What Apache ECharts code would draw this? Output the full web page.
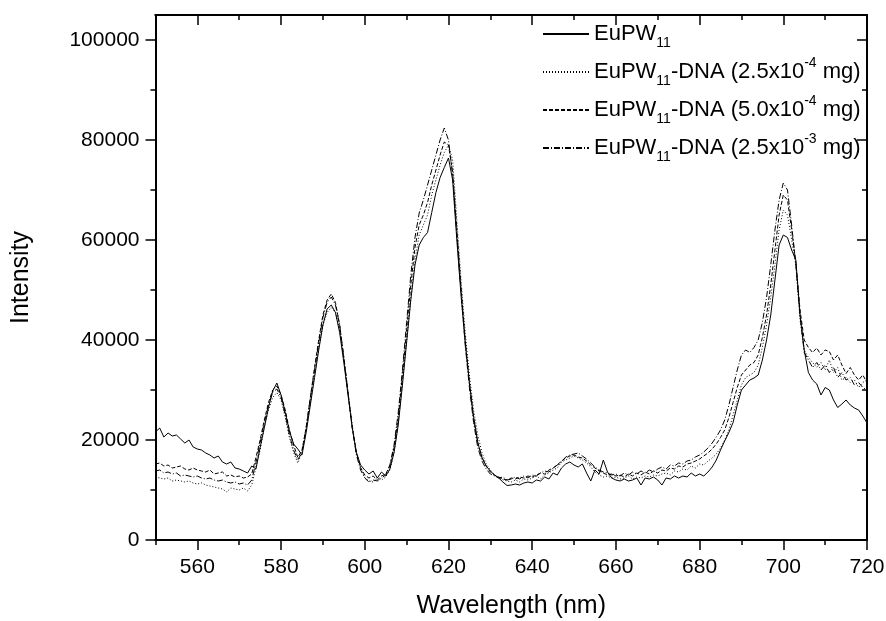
<!DOCTYPE html>
<html>
<head>
<meta charset="utf-8">
<script src="https://cdn.jsdelivr.net/npm/echarts@6/dist/echarts.min.js"></script>
<style>
  html, body { margin: 0; padding: 0; background: #fff; }
  #chart { width: 886px; height: 621px; }
</style>
</head>
<body>
<div id="chart"></div>
<script>
// wavelength grid (nm)
var wavelength = [
  550,551,552,553,554,555,556,557,558,559,560,561,562,563,564,565,566,567,568,569,
  570,571,572,573,574,575,576,577,578,579,580,581,582,583,584,585,586,587,588,589,
  590,591,592,593,594,595,596,597,598,599,600,601,602,603,604,605,606,607,608,609,
  610,611,612,613,614,615,616,617,618,619,620,621,622,623,624,625,626,627,628,629,
  630,631,632,633,634,635,636,637,638,639,640,641,642,643,644,645,646,647,648,649,
  650,651,652,653,654,655,656,657,658,659,660,661,662,663,664,665,666,667,668,669,
  670,671,672,673,674,675,676,677,678,679,680,681,682,683,684,685,686,687,688,689,
  690,691,692,693,694,695,696,697,698,699,700,701,702,703,704,705,706,707,708,709,
  710,711,712,713,714,715,716,717,718,719,720
];

// EuPW11
var pw11 = [
  21600,22400,20600,21400,20800,21000,20200,19400,20000,18600,18200,18000,17400,17000,16400,16800,15600,15200,15600,14400,
  14200,13800,13400,14800,14200,18500,22500,26500,29800,31400,29000,25500,21800,19200,18200,17000,21500,27000,32500,38000,
  43000,46200,47000,45500,41500,35500,29000,22500,17500,15000,14000,13200,13800,12400,13600,12800,14200,17500,23000,31000,
  39500,48000,55000,59000,60500,61500,65500,69500,72500,74500,76400,72000,60000,49000,39500,31500,24500,19500,16500,14800,
  13800,13000,12400,11600,10900,11000,11200,11000,11400,11600,11400,12000,11800,12600,12200,13400,13000,14400,15200,15600,
  15000,14600,15200,13400,11800,14000,13200,16000,13600,12400,12000,11800,12200,11800,12000,12400,11000,12400,12200,12600,
  12000,11000,12400,12200,12800,12400,12800,12600,13400,12800,13200,12800,13600,14600,16000,18000,19800,21500,23500,27000,
  30000,31000,32000,32400,33000,36000,40000,45000,52000,59000,61000,60500,58000,56000,45000,38000,33500,32000,31200,29000,
  30500,30000,28000,26500,27200,28000,27000,26400,26000,24800,23400
];

// EuPW11-DNA (2.5x10-4 mg)
var dna25e4 = [
  12600,12400,12200,12400,11800,12000,11800,11600,11800,11400,11200,11400,11000,10800,10600,10400,10200,9600,10400,10200,
  10000,10400,9800,11000,14500,18000,22500,26000,28500,29500,28000,24500,20500,17500,15400,17500,22000,27500,33000,38500,
  43000,45500,46500,45500,42000,36000,29500,23000,17500,14500,12500,11800,11600,12400,12000,12600,14000,17500,23500,31500,
  40000,48500,56000,61000,63000,65000,69000,72000,75000,77500,79000,76000,64000,52000,41500,33000,26000,21000,17500,15200,
  14000,13000,12600,12000,11800,11600,12000,11600,12200,12000,12400,12800,12200,13000,13400,14000,14400,15600,16000,16400,
  16800,16400,16000,15400,14600,13600,13000,12600,12800,12400,12600,12200,12400,12800,12200,12600,12400,12800,12600,13000,
  12800,13200,13400,13000,13800,13600,14200,14000,14800,14400,15200,15000,15800,16400,17200,18400,20000,22000,25000,28000,
  31000,32500,33000,33500,35000,38500,43000,48500,55000,62000,66000,65000,60000,55000,44000,38000,36500,35500,34500,35500,
  34000,36000,33500,34500,32000,32500,31500,32000,30500,31500,32000
];

// EuPW11-DNA (5.0x10-4 mg)
var dna50e4 = [
  15200,15400,14800,15000,14400,14600,14800,14200,14000,14400,14000,13800,13600,14000,13200,13400,13600,12800,13000,12600,
  12800,12400,12600,13200,16500,20000,24000,27500,30000,30800,29000,26000,22000,19000,16500,18000,22500,28500,34500,40000,
  45000,48000,49200,47500,43000,36500,29500,22500,17500,14500,13000,12400,12800,12000,12800,13200,14800,18500,24500,33000,
  42000,51000,58500,63000,65000,67500,71000,74000,77000,79600,79000,73500,62000,50500,40000,31500,24500,19500,16500,14800,
  13600,13000,12600,12200,12000,12400,12200,12600,12400,12800,12600,13000,13400,13200,14000,14400,15000,15800,16400,16800,
  17000,16600,16400,15800,15000,14400,13800,13400,13000,13200,12800,13000,12600,13200,12800,13400,13000,13600,13200,13800,
  13400,14000,13800,14400,14200,14800,14600,15200,15400,15800,16200,16800,17400,18200,19200,20500,22000,24500,27500,30500,
  33000,34000,35000,35500,37000,40500,45000,51000,58000,65000,69000,68000,62000,55500,46000,40000,38500,37500,38400,37000,
  38000,37700,36000,37000,35000,33300,34500,33000,32000,33000,31500
];

// EuPW11-DNA (2.5x10-3 mg)
var dna25e3 = [
  13800,14000,13400,13600,13200,13400,12800,13000,12800,12600,12800,12400,12200,12400,12000,11800,12000,11600,11400,11600,
  11200,11400,11000,12000,15500,19500,23500,27000,29500,30200,28500,25000,21000,18000,16000,17500,22500,28500,34000,39500,
  44500,47500,48600,47000,43000,36500,29500,22500,17000,14000,12400,11600,12000,11800,12400,13000,15000,19000,25500,34000,
  43500,53000,60500,65400,68000,71000,74000,77000,80000,82400,80000,73000,61000,49500,39000,30500,23500,18500,15800,14200,
  13200,12800,12400,12600,12000,12200,12600,12200,12800,12400,13000,12800,13400,13800,13600,14400,15000,15600,16600,17000,
  17200,17400,16800,16200,15400,14600,14000,13600,13400,13000,13200,12800,13400,13000,13600,13200,13800,13400,14000,13600,
  14200,14600,14200,15000,14800,15400,15200,15800,16000,16600,17000,17600,18400,19400,20600,22000,24000,27000,30500,34000,
  37000,38000,37500,38500,40000,43500,48500,55000,62000,68000,71400,70000,63000,55000,45000,37500,36000,34500,35500,34000,
  35000,33500,34500,32500,33500,32000,32500,31000,31500,30500,30000
];

// tick positions
var xMajorTicks = [560, 580, 600, 620, 640, 660, 680, 700, 720];
var xMinorTicks = [550, 570, 590, 610, 630, 650, 670, 690, 710];
var yMajorTicks = [0, 20000, 40000, 60000, 80000, 100000];
var yMinorTicks = [10000, 30000, 50000, 70000, 90000];

var seriesNames = ['EuPW11', 'EuPW11-DNA (2.5x10-4 mg)', 'EuPW11-DNA (5.0x10-4 mg)', 'EuPW11-DNA (2.5x10-3 mg)'];
var legendRich = {
  'EuPW11': '{a|EuPW}{s|11}',
  'EuPW11-DNA (2.5x10-4 mg)': '{a|EuPW}{s|11}{a|-DNA (2.5x10}{p|-4}{a| mg)}',
  'EuPW11-DNA (5.0x10-4 mg)': '{a|EuPW}{s|11}{a|-DNA (5.0x10}{p|-4}{a| mg)}',
  'EuPW11-DNA (2.5x10-3 mg)': '{a|EuPW}{s|11}{a|-DNA (2.5x10}{p|-3}{a| mg)}'
};
var dashes = ['solid', [1, 2], [4, 2], [6, 2, 1, 2]];
var values = [pw11, dna25e4, dna50e4, dna25e3];

function pairs(ys) {
  var out = [];
  for (var i = 0; i < wavelength.length; i++) out.push([wavelength[i], ys[i]]);
  return out;
}

var font = 'Liberation Sans, Arial, sans-serif';
var black = '#000';

// one axis = frame line + a set of ticks
function makeAxis(kind, pos, ticks, len, inside, withLabel) {
  var ax = {
    type: 'value',
    position: pos,
    min: kind == 'x' ? 550 : 0,
    max: kind == 'x' ? 720 : 105000,
    axisLine: { show: true, onZero: false, lineStyle: { color: black, width: 2 } },
    axisTick: { show: true, inside: inside, length: len, customValues: ticks, lineStyle: { color: black, width: 1.5 } },
    axisLabel: { show: false },
    splitLine: { show: false }
  };
  if (withLabel) {
    ax.axisLabel = {
      show: true,
      customValues: ticks,
      fontSize: 21,
      fontFamily: font,
      color: black,
      margin: kind == 'x' ? 17 : 16,
      formatter: function (v) { return String(v); }
    };
  }
  return ax;
}

var xMain = makeAxis('x', 'bottom', xMajorTicks, 10, false, true);
xMain.name = 'Wavelength (nm)';
xMain.nameLocation = 'middle';
xMain.nameGap = 54;
xMain.nameTextStyle = { fontSize: 25, fontFamily: font, color: black };

var yMain = makeAxis('y', 'left', yMajorTicks, 10, false, true);
yMain.name = 'Intensity';
yMain.nameLocation = 'middle';
yMain.nameGap = 122;
yMain.nameTextStyle = { fontSize: 25, fontFamily: font, color: black };

var chart = echarts.init(document.getElementById('chart'));

var series = [];
for (var k = 0; k < seriesNames.length; k++) {
  series.push({
    name: seriesNames[k],
    type: 'line',
    xAxisIndex: 0,
    yAxisIndex: 0,
    data: pairs(values[k]),
    symbol: 'none',
    lineStyle: { color: black, width: 1, type: dashes[k] },
    itemStyle: { color: black }
  });
}

var option = {
  animation: false,
  backgroundColor: '#fff',
  grid: { left: 155.5, right: 19, top: 15, bottom: 81, outerBoundsMode: 'none' },
  legend: {
    orient: 'vertical',
    left: 537,
    top: 18,
    itemWidth: 46,
    itemHeight: 14,
    itemGap: 6,
    selectedMode: false,
    data: seriesNames,
    itemStyle: { opacity: 0, color: 'rgba(0,0,0,0)', borderWidth: 0 },
    formatter: function (name) { return legendRich[name]; },
    textStyle: {
      color: black,
      rich: {
        a: { fontSize: 22, lineHeight: 32, fontFamily: font, color: black },
        s: { fontSize: 14, lineHeight: 14, verticalAlign: 'bottom', fontFamily: font, color: black },
        p: { fontSize: 14, lineHeight: 24, verticalAlign: 'top', fontFamily: font, color: black }
      }
    }
  },
  xAxis: [
    xMain,
    makeAxis('x', 'bottom', xMinorTicks, 5, false, false),
    makeAxis('x', 'top', xMajorTicks, 10, true, false),
    makeAxis('x', 'top', xMinorTicks, 5, true, false)
  ],
  yAxis: [
    yMain,
    makeAxis('y', 'left', yMinorTicks, 5, false, false),
    makeAxis('y', 'right', yMajorTicks, 10, true, false),
    makeAxis('y', 'right', yMinorTicks, 5, true, false)
  ],
  series: series
};

chart.setOption(option);
</script>
</body>
</html>
